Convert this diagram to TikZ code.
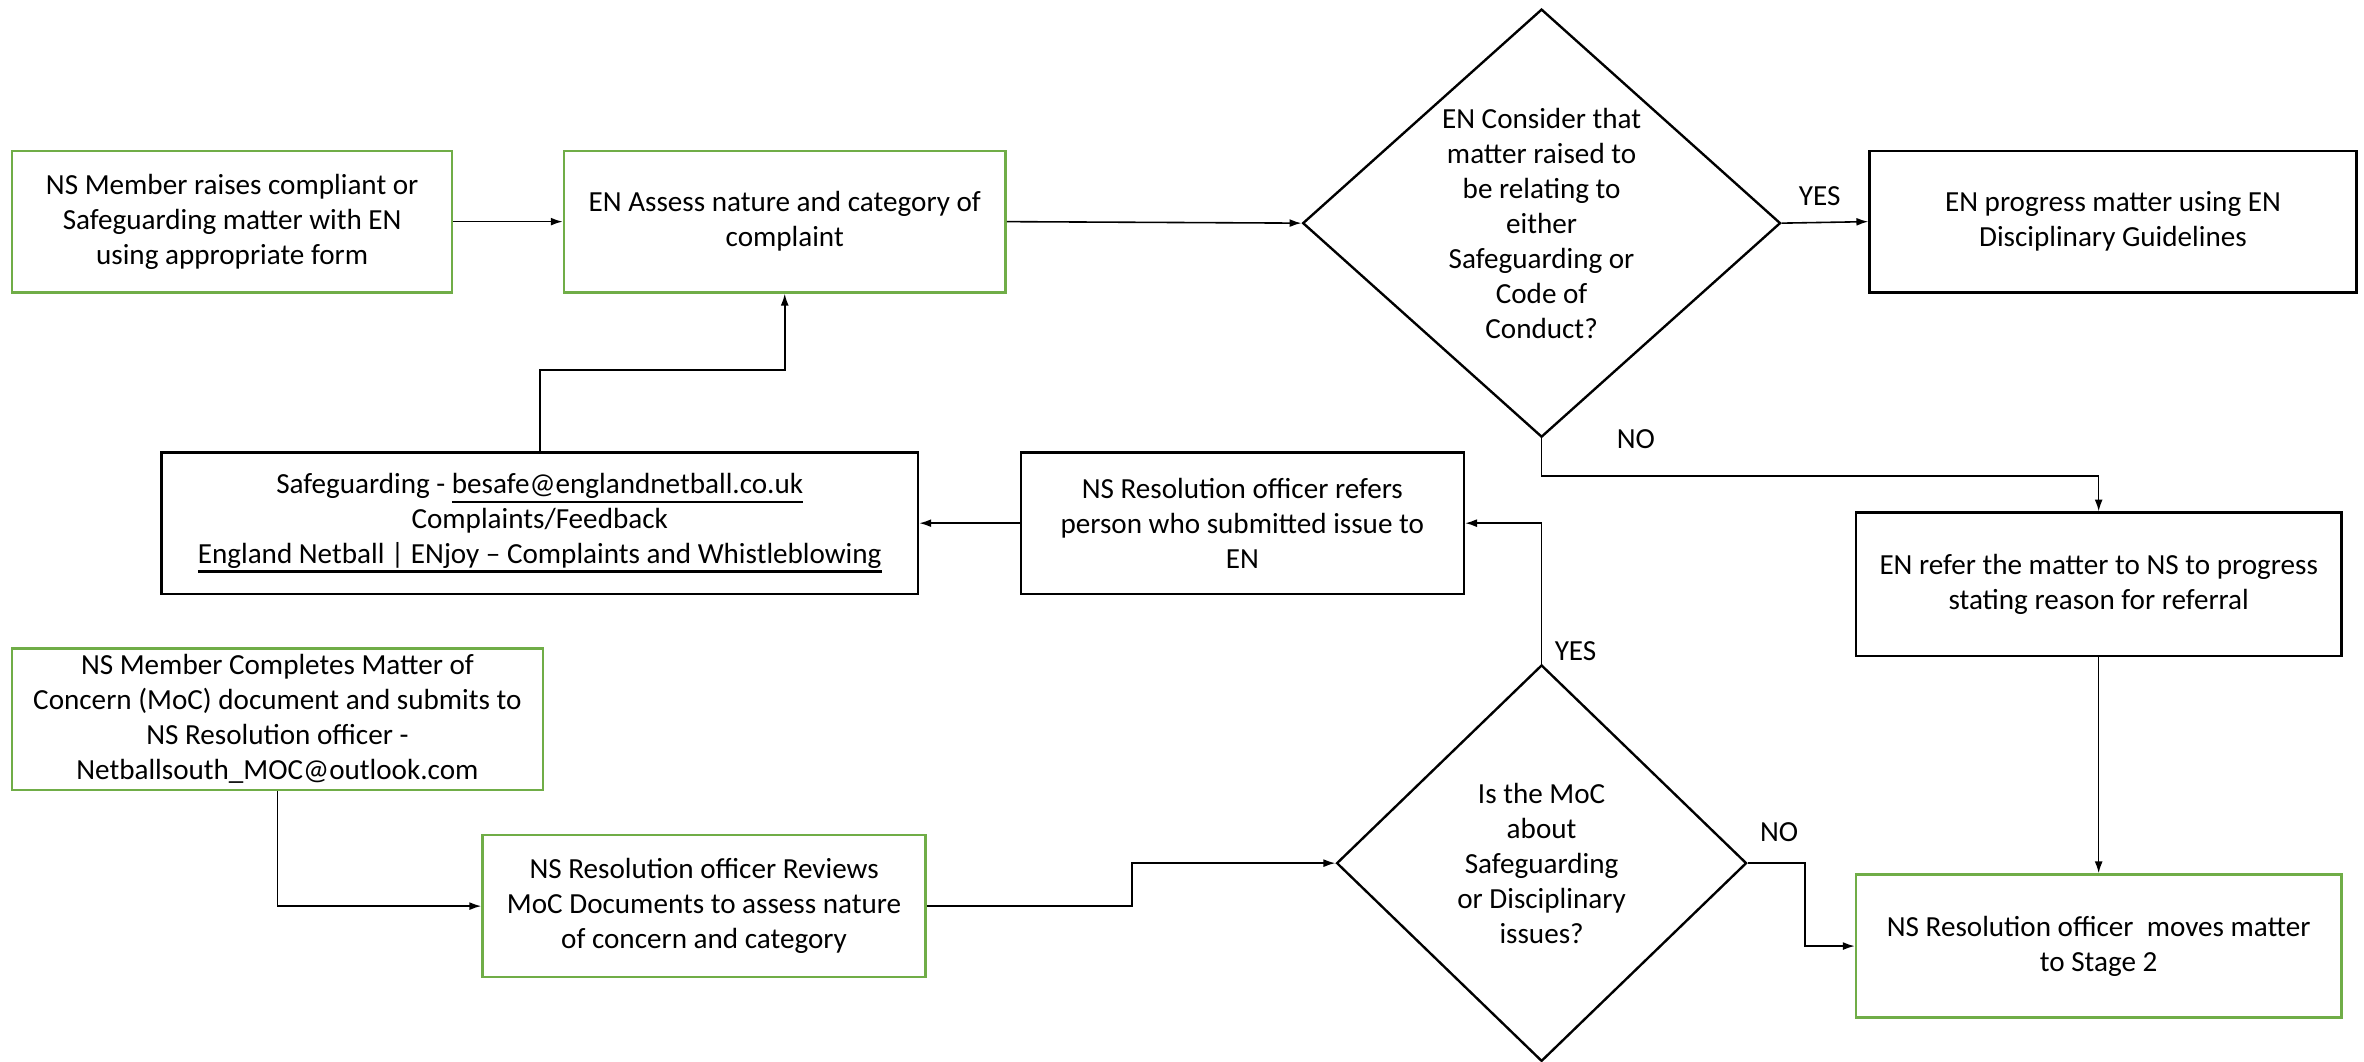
\documentclass[tikz,border=0pt]{standalone}
\usepackage{fontspec}
\setmainfont{Carlito}
\usetikzlibrary{arrows.meta, shapes.geometric}
\definecolor{boxgreen}{HTML}{70AD47}
\newcommand{\ulink}[1]{\leavevmode\vtop{\hbox{#1}\kern0.6pt\hrule height 0.8pt}}

\begin{document}
\begin{tikzpicture}[x=0.02cm, y=-0.02cm,
        every node/.style={font=\fontsize{11}{13.2}\selectfont, align=center, inner sep=0pt},
        greenbox/.style={rectangle, draw=boxgreen, line width=0.9pt},
        blackbox/.style={rectangle, draw=black, line width=0.9pt},
        decision/.style={diamond, draw=black, line width=0.9pt},
        flow/.style={line width=0.6pt, -{Latex[length=4.5pt, width=3pt]}}]
        \useasboundingbox (0,0) rectangle (1568,704);

        % --- Top row ---
        \node[greenbox, minimum width=5.84cm, minimum height=1.88cm] (raise) at (154,147)
            {NS Member raises compliant or\\Safeguarding matter with EN\\using appropriate form};
        \node[greenbox, minimum width=5.86cm, minimum height=1.88cm] (assess) at (520.5,147)
            {EN Assess nature and category of\\complaint};
        \node[decision, minimum width=6.34cm, minimum height=5.68cm, aspect=1.12] (consider) at (1022.5,148)
            {EN Consider that\\matter raised to\\be relating to\\either\\Safeguarding or\\Code of\\Conduct?};
        \node[blackbox, minimum width=6.46cm, minimum height=1.88cm] (progress) at (1401.5,147)
            {EN progress matter using EN\\Disciplinary Guidelines};

        % --- Middle row ---
        \node[blackbox, minimum width=10.04cm, minimum height=1.88cm] (contacts) at (358,347)
            {Safeguarding - \ulink{besafe@englandnetball.co.uk}\\Complaints/Feedback\\
             \ulink{England Netball | ENjoy – Complaints and Whistleblowing}};
        \node[blackbox, minimum width=5.88cm, minimum height=1.88cm] (refers) at (824,347)
            {NS Resolution officer refers\\person who submitted issue to\\EN};
        \node[blackbox, minimum width=6.44cm, minimum height=1.90cm] (referns) at (1392,387.5)
            {EN refer the matter to NS to progress\\stating reason for referral};

        % --- Bottom row ---
        \node[greenbox, minimum width=7.04cm, minimum height=1.88cm] (moc) at (184,477)
            {NS Member Completes Matter of\\Concern (MoC) document and submits to\\NS Resolution officer -\\Netballsouth\_MOC@outlook.com};
        \node[greenbox, minimum width=5.88cm, minimum height=1.88cm] (reviews) at (467,601)
            {NS Resolution officer Reviews\\MoC Documents to assess nature\\of concern and category};
        \node[decision, minimum width=5.44cm, minimum height=5.26cm, aspect=1.03] (about) at (1022.5,572.5)
            {Is the MoC\\about\\Safeguarding\\or Disciplinary\\issues?};
        \node[greenbox, minimum width=6.44cm, minimum height=1.90cm] (stage) at (1392,627.5)
            {NS Resolution officer\ \ moves matter\\to Stage 2};

        % --- Branch labels ---
        \node (yesup) at (1207,130) {YES};
        \node (noup) at (1085,291) {NO};
        \node (yeslow) at (1045,432) {YES};
        \node (nolow) at (1180,552) {NO};

        % --- Connectors ---
        \draw[flow] (raise) -- (assess);
        \draw[flow] (assess.east) -- (consider.west);
        \draw[flow] (consider.east) -- (progress.west);
        \draw[flow] (consider.south) -- ++(0,25) -| (referns.north);
        \draw[flow] (referns.south) -- (stage.north);
        \draw[flow] (about.east) -- ++(38,0) |- (stage.west);
        \draw[flow] (about.north) |- (refers.east);
        \draw[flow] (refers.west) -- (contacts.east);
        \draw[flow] (contacts.north) -- ++(0,-54) -| (assess.south);
        \draw[flow] (moc.south) |- (reviews.west);
        \draw[flow] (reviews.east) -- ++(136,0) |- (about.west);
    \end{tikzpicture}
\end{document}
